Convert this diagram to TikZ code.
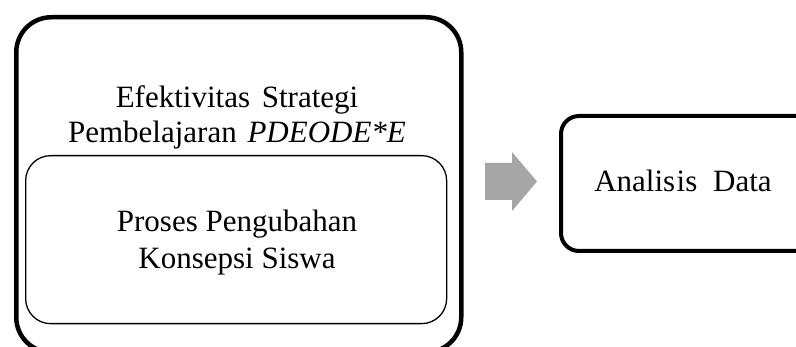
\documentclass[tikz,border=0pt]{standalone}
\usepackage{fontspec}
\setmainfont{Liberation Serif}
\begin{document}
\begin{tikzpicture}[x=1pt,y=-1pt,
  bigbox/.style={draw=black, rectangle, inner sep=0pt, anchor=north west},
  lbl/.style={inner sep=0pt, anchor=base, font=\fontsize{31}{36}\selectfont},
  arrowfill/.style={fill=black!35, draw=none}]
\useasboundingbox (0,0) rectangle (796,347);
\clip (0,0) rectangle (796,347);
% outer box
\node[bigbox, line width=4.5pt, rounded corners=35pt, minimum width=445pt, minimum height=335pt] (outer) at (14,15) {};
% inner box
\node[bigbox, line width=1.3pt, rounded corners=25pt, minimum width=421pt, minimum height=168pt] (inner) at (25,155) {};
% right box
\node[bigbox, line width=4pt, rounded corners=18pt, minimum width=261pt, minimum height=135pt] (right) at (559,114) {};
% texts
\node[lbl] (t1) at (237,108) {Efektivitas\hspace{4pt} Strategi};
\node[lbl] (t2) at (237,143) {Pembelajaran\hspace{3pt} \textit{PDEODE*E}};
\node[lbl] (t3) at (237,232) {Proses Pengubahan};
\node[lbl] (t4) at (237,269) {Konsepsi Siswa};
\node[lbl] (t5) at (683,192) {Analis\hspace{1.5pt}is\hspace{8pt} Data};
% block arrow between outer and right box
\coordinate (tip) at (537,181.5);
\fill[arrowfill] (485,163) -- (512,163) -- (512,152) -- (tip) -- (512,211) -- (512,200) -- (485,200) -- cycle;
\end{tikzpicture}
\end{document}
